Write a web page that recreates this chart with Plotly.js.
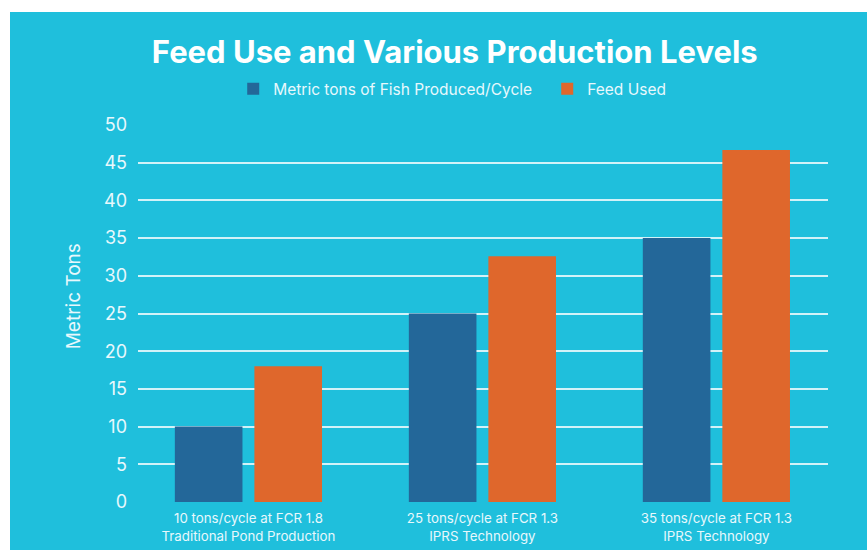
<!DOCTYPE html>
<html><head><meta charset="utf-8">
<script src="https://cdn.plot.ly/plotly-3.0.1.min.js"></script>
<style>
html,body{margin:0;padding:0;background:#fff;width:867px;height:550px;overflow:hidden;}
#chart{position:absolute;left:10px;top:12px;width:857px;height:538px;}
</style></head>
<body><div id="chart"></div>
<script>
const categories = ["10 tons/cycle at FCR 1.8<br>Traditional Pond Production", "25 tons/cycle at FCR 1.3<br>IPRS Technology", "35 tons/cycle at FCR 1.3<br>IPRS Technology"];
const fishProduced = [10, 25, 35];
const feedUsed = [18, 32.6, 46.7];
const seriesNames = ["Metric tons of Fish Produced/Cycle", "Feed Used"];
const yTicks = [0, 5, 10, 15, 20, 25, 30, 35, 40, 45, 50];

const font = "Inter, 'Open Sans', sans-serif";
const txt = "#e8f8fc";
const traces = [
  {type:"bar", x:categories, y:fishProduced, name:seriesNames[0], marker:{color:"#236799"}},
  {type:"bar", x:categories, y:feedUsed, name:seriesNames[1], marker:{color:"#DF672C"}}
];
const layout = {
  width:857, height:538,
  paper_bgcolor:"#1FBFDC", plot_bgcolor:"#1FBFDC",
  margin:{l:128, r:39, t:113, b:48, autoexpand:false},
  font:{family:font, color:"#ffffff"},
  title:{text:"<b>Feed Use and Various Production Levels</b>", font:{size:31, family:font, color:"#ffffff"}, x:0.519, xanchor:"center", y:0.925, yanchor:"middle"},
  showlegend:true,
  legend:{orientation:"h", x:0.138, xanchor:"left", y:1.095, yanchor:"middle", font:{size:15.5, color:txt}, entrywidth:269, bgcolor:"rgba(0,0,0,0)"},
  barmode:"group", bargap:0.32, bargroupgap:0.15,
  xaxis:{range:[-0.472, 2.477], showgrid:false, zeroline:false, showline:false, tickfont:{size:13.3, color:txt}, ticks:"", ticklabelstandoff:7},
  yaxis:{range:[0,50], tickvals:yTicks, showgrid:true, gridcolor:"rgba(255,255,255,0.8)", gridwidth:1.5, zeroline:false, showline:false,
         tickfont:{size:18, color:txt}, ticklabelstandoff:10},
  annotations:[{text:"Metric Tons", xref:"paper", yref:"paper", x:-0.094, y:0.546, xanchor:"center", yanchor:"middle", textangle:-90, showarrow:false, font:{size:19, color:txt, family:font}}]
};
Plotly.newPlot("chart", traces, layout, {displayModeBar:false});
</script></body></html>
